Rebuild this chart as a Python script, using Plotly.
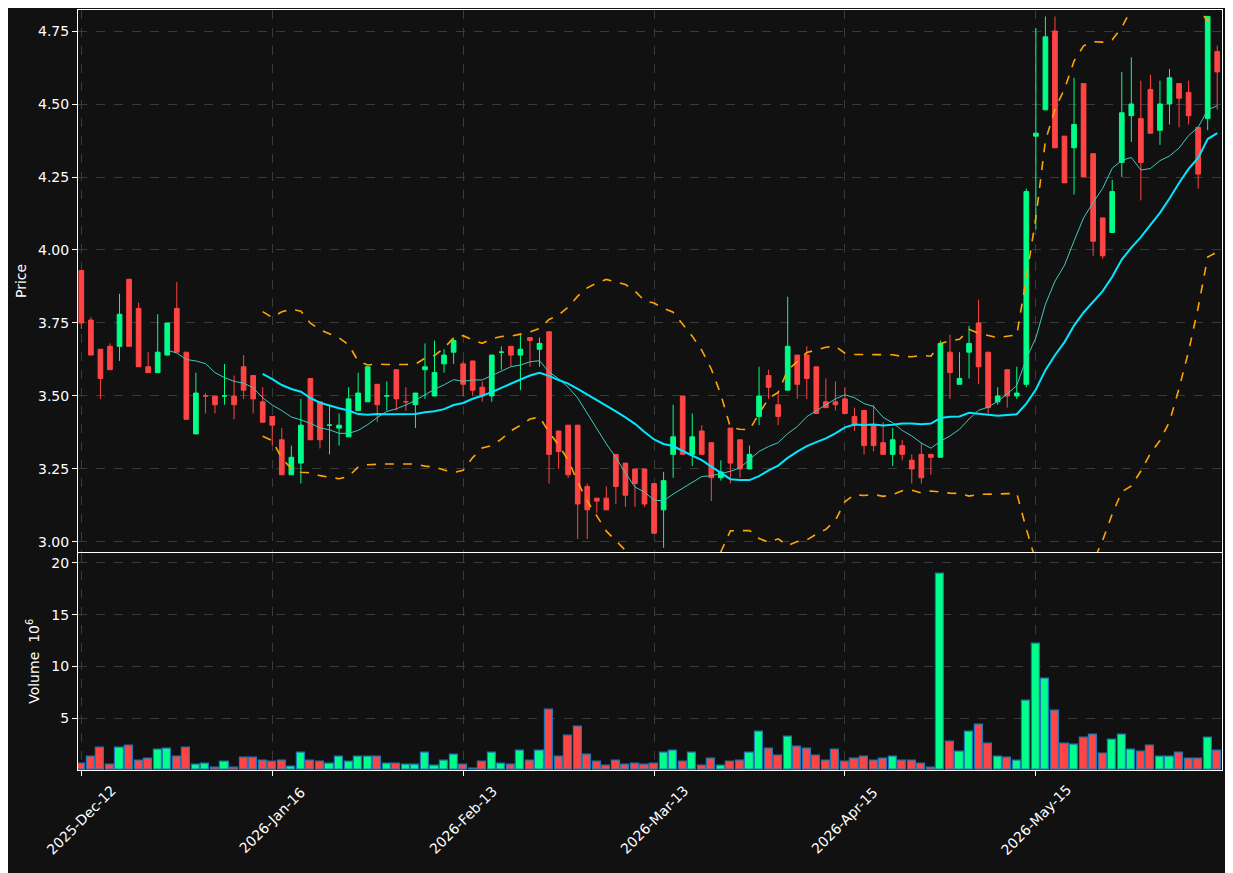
import plotly.graph_objects as go
import pandas as pd

opens = [3.93,3.76,3.66,3.67,3.67,3.90,3.80,3.60,3.58,3.64,3.80,3.65,3.37,3.50,3.50,3.50,3.50,3.60,3.57,3.48,
         3.43,3.35,3.23,3.27,3.56,3.48,3.40,3.39,3.36,3.45,3.48,3.54,3.50,3.59,3.48,3.47,3.59,3.50,3.61,3.65,
         3.61,3.62,3.53,3.50,3.65,3.67,3.64,3.70,3.66,3.72,3.38,3.40,3.40,3.19,3.15,3.15,3.30,3.27,3.25,3.25,
         3.20,3.11,3.30,3.50,3.30,3.38,3.34,3.22,3.39,3.35,3.25,3.43,3.57,3.47,3.52,3.64,3.64,3.60,3.48,3.48,
         3.49,3.43,3.45,3.40,3.34,3.30,3.33,3.28,3.30,3.30,3.29,3.65,3.54,3.65,3.75,3.65,3.48,3.59,3.50,3.54,
         4.39,4.48,4.75,4.39,4.35,4.57,4.33,4.11,4.06,4.30,4.46,4.45,4.55,4.41,4.50,4.57,4.54,4.42,4.45,4.68]
highs = [3.93,3.77,3.66,3.68,3.85,3.90,3.82,3.65,3.78,3.75,3.89,3.65,3.58,3.51,3.50,3.61,3.57,3.64,3.57,3.53,
         3.43,3.39,3.33,3.49,3.56,3.48,3.47,3.44,3.53,3.58,3.60,3.54,3.55,3.59,3.53,3.51,3.68,3.69,3.66,3.70,
         3.62,3.62,3.55,3.64,3.67,3.67,3.71,3.70,3.70,3.72,3.38,3.40,3.40,3.20,3.15,3.19,3.30,3.27,3.25,3.25,
         3.20,3.24,3.47,3.50,3.44,3.40,3.34,3.28,3.39,3.35,3.33,3.60,3.59,3.51,3.84,3.64,3.67,3.60,3.56,3.55,
         3.53,3.46,3.45,3.47,3.41,3.39,3.35,3.30,3.34,3.30,3.69,3.71,3.65,3.74,3.83,3.65,3.53,3.59,3.60,4.21,
         4.76,4.80,4.80,4.39,4.59,4.57,4.33,4.11,4.24,4.61,4.66,4.58,4.60,4.58,4.62,4.57,4.58,4.42,4.80,4.70]
lows = [3.73,3.64,3.49,3.59,3.62,3.67,3.60,3.58,3.58,3.64,3.65,3.42,3.37,3.44,3.44,3.47,3.42,3.49,3.44,3.41,
        3.33,3.23,3.23,3.20,3.35,3.32,3.30,3.33,3.36,3.45,3.48,3.41,3.45,3.45,3.45,3.39,3.49,3.50,3.58,3.61,
        3.50,3.50,3.48,3.48,3.59,3.60,3.52,3.60,3.60,3.20,3.25,3.22,3.01,3.01,3.10,3.11,3.13,3.12,3.12,3.12,
        3.03,2.98,3.22,3.30,3.26,3.30,3.14,3.21,3.20,3.22,3.25,3.40,3.49,3.40,3.52,3.49,3.49,3.44,3.46,3.45,
        3.44,3.38,3.30,3.31,3.30,3.26,3.28,3.20,3.20,3.23,3.29,3.49,3.54,3.56,3.54,3.44,3.47,3.46,3.49,3.53,
        4.07,4.48,4.35,4.23,4.19,4.25,3.98,3.97,4.06,4.25,4.37,4.17,4.40,4.36,4.43,4.42,4.43,4.21,4.41,4.48]
closes = [3.75,3.64,3.56,3.59,3.78,3.67,3.60,3.58,3.65,3.75,3.65,3.42,3.51,3.50,3.47,3.50,3.47,3.52,3.49,3.41,
          3.40,3.23,3.29,3.40,3.35,3.35,3.40,3.40,3.49,3.51,3.60,3.47,3.50,3.49,3.48,3.51,3.60,3.58,3.64,3.69,
          3.54,3.52,3.50,3.64,3.65,3.64,3.66,3.69,3.68,3.30,3.31,3.23,3.13,3.11,3.14,3.11,3.19,3.16,3.20,3.13,
          3.03,3.21,3.36,3.30,3.36,3.30,3.22,3.24,3.27,3.25,3.30,3.50,3.53,3.43,3.67,3.54,3.56,3.44,3.46,3.47,
          3.44,3.40,3.33,3.33,3.30,3.35,3.30,3.25,3.22,3.29,3.68,3.58,3.56,3.68,3.60,3.46,3.50,3.50,3.51,4.20,
          4.40,4.73,4.35,4.23,4.43,4.25,4.03,3.98,4.20,4.47,4.50,4.30,4.40,4.50,4.59,4.52,4.46,4.26,4.80,4.61]
volumes = [0.66,1.25,2.14,0.56,2.14,2.33,0.95,1.05,1.94,2.04,1.25,2.14,0.56,0.66,0.26,0.76,0.26,1.15,1.15,0.86,
           0.76,0.86,0.36,1.64,0.86,0.76,0.66,1.25,0.76,1.25,1.25,1.25,0.66,0.66,0.56,0.56,1.64,0.46,0.86,1.45,
           0.56,0.10,0.76,1.64,0.66,0.56,1.84,0.86,1.84,5.80,1.25,3.32,4.21,1.45,0.76,0.46,0.86,0.56,0.66,0.56,
           0.66,1.64,1.84,0.76,1.64,0.46,1.05,0.46,0.76,0.86,1.64,3.72,2.04,1.35,3.22,2.24,2.04,1.35,0.95,1.94,
           0.76,1.05,1.25,0.95,1.05,1.25,0.86,0.95,0.66,0.26,19.0,2.73,1.74,3.72,4.41,2.53,1.25,1.15,0.95,6.68,
           12.2,8.85,5.69,2.53,2.43,3.13,3.42,1.55,2.93,3.42,1.94,1.74,2.34,1.25,1.25,1.64,1.05,1.05,3.13,1.84]
tick_idx = [0, 20, 40, 60, 80, 100]
tick_labels = ["2025-Dec-12", "2026-Jan-16", "2026-Feb-13", "2026-Mar-13", "2026-Apr-15", "2026-May-15"]

UP, DOWN = "#00ff88", "#ff4444"
x = list(range(len(closes)))
cs = pd.Series(closes)
ma10 = cs.rolling(10).mean()
ma20 = cs.rolling(20).mean()
sd20 = cs.rolling(20).std(ddof=0)
bb_up = ma20 + 2 * sd20
bb_lo = ma20 - 2 * sd20

fig = go.Figure()
fig.add_trace(go.Candlestick(x=x, open=opens, high=highs, low=lows, close=closes,
    increasing=dict(line=dict(color=UP, width=1), fillcolor=UP),
    decreasing=dict(line=dict(color=DOWN, width=1), fillcolor=DOWN),
    whiskerwidth=0, xaxis="x", yaxis="y", showlegend=False))
fig.add_trace(go.Scatter(x=x, y=ma10, mode="lines", line=dict(color="#3fc9c0", width=1), showlegend=False))
fig.add_trace(go.Scatter(x=x, y=ma20, mode="lines", line=dict(color="#00e8ff", width=2), showlegend=False))
for b in (bb_up, bb_lo):
    fig.add_trace(go.Scatter(x=x, y=b, mode="lines", line=dict(color="#ffa500", width=1.6, dash="dash"), showlegend=False))
vcol = [UP if c >= o else DOWN for o, c in zip(opens, closes)]
fig.add_trace(go.Bar(x=x, y=volumes, marker=dict(color=vcol, line=dict(color="#1f77b4", width=1.2)),
    width=0.85, xaxis="x2", yaxis="y2", showlegend=False))

for i, t in zip(tick_idx, tick_labels):
    fig.add_annotation(x=i, y=0, xref="x2", yref="y2 domain", text=t, showarrow=False, textangle=-45,
                       xanchor="center", yanchor="middle", yshift=-50,
                       font=dict(color="white", size=14, family="DejaVu Sans"))

grid = dict(showgrid=True, gridcolor="#3a3a3a", griddash="dash", gridwidth=1)
ax = dict(showline=True, linecolor="white", linewidth=1, mirror=True, ticks="outside", tickcolor="white",
          tickfont=dict(color="white", size=14), zeroline=False, **grid)
fig.update_layout(
    width=1233, height=873, paper_bgcolor="#111111", plot_bgcolor="#111111",
    margin=dict(l=70, r=19, t=2, b=111), bargap=0,
    font=dict(family="DejaVu Sans", color="white", size=14),
    xaxis=dict(domain=[0, 1], range=[-0.35, 119.5], anchor="y", matches="x2", showticklabels=False,
               tickvals=tick_idx, rangeslider=dict(visible=False), **ax),
    xaxis2=dict(domain=[0, 1], range=[-0.35, 119.5], anchor="y2", tickvals=tick_idx, showticklabels=False, **ax),
    yaxis=dict(domain=[0.287, 1], range=[2.966, 4.822], tickvals=[3.0, 3.25, 3.5, 3.75, 4.0, 4.25, 4.5, 4.75],
               ticktext=["3.00", "3.25", "3.50", "3.75", "4.00", "4.25", "4.50", "4.75"], anchor="x",
               title=dict(text="Price", font=dict(size=14, color="white"), standoff=8), **ax),
    yaxis2=dict(domain=[0, 0.286], range=[0, 21], tickvals=[5, 10, 15, 20], anchor="x2",
                title=dict(text="Volume  10<sup>6</sup>", font=dict(size=14, color="white"), standoff=8), **ax),
)
fig.write_html("out.html")
